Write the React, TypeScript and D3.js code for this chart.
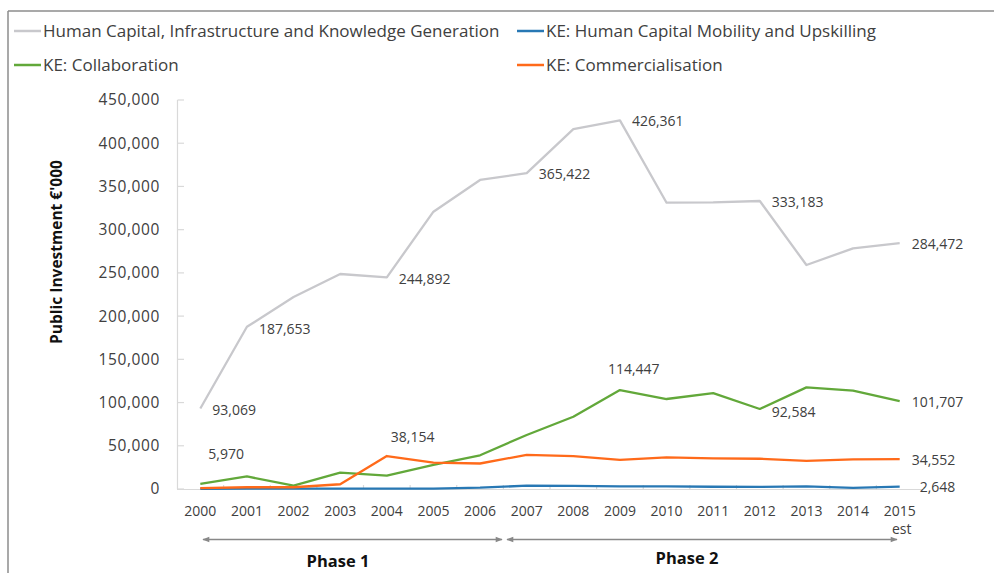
import React from "react";
import * as d3 from "d3";

const years = ["2000","2001","2002","2003","2004","2005","2006","2007","2008","2009","2010","2011","2012","2013","2014","2015"];
const humanCapital = [93069,187653,222000,248700,244892,320800,357500,365422,416400,426361,331200,331500,333183,259100,278400,284472];
const mobility = [300,500,500,500,500,500,1500,3800,3600,3100,3000,2600,2500,3100,1400,2648];
const collaboration = [5970,14500,4000,19000,15500,28000,39000,62500,83600,114447,104100,111000,92584,117600,113700,101707];
const commercialisation = [1000,2000,2000,5500,38154,30500,29500,39500,38000,33800,36700,35500,35000,32600,34300,34552];
const yTicks = [0,50000,100000,150000,200000,250000,300000,350000,400000,450000];

const seriesNames = [
  "Human Capital, Infrastructure and Knowledge Generation",
  "KE: Human Capital Mobility and Upskilling",
  "KE: Collaboration",
  "KE: Commercialisation",
];
const seriesColors = ["#c8c8cc", "#2878b4", "#62a83a", "#ff6a1a"];
const seriesData = [humanCapital, mobility, collaboration, commercialisation];

// labelled points: [series index, year index, dx, dy]
const labelPoints: [number, number, number, number][] = [
  [0, 0, 12, 2], [0, 1, 12, 2], [0, 4, 12, 2], [0, 7, 12, 1], [0, 9, 12, 1], [0, 12, 12, 1], [0, 15, 12, 1],
  [2, 0, 8, -30], [2, 9, -12, -21], [2, 12, 12, 3], [2, 15, 12, 1],
  [3, 4, 4, -19], [3, 15, 12, 1],
  [1, 15, 20, 0],
];

const FONT = "'Open Sans', 'Segoe UI', sans-serif";

export default function App() {
  const W = 994, H = 573;
  const x = d3.scaleBand<string>().domain(years).range([177, 923]);
  const y = d3.scaleLinear().domain([0, 450000]).range([489, 100]);
  const cx = (i: number) => (x(years[i]) as number) + x.bandwidth() / 2;
  const line = d3.line<number>().x((_, i) => cx(i)).y((v) => y(v));
  const fmt = d3.format(",");
  const axisColor = "#d9d9d9";
  const textColor = "#404040";

  const legendItems = [
    { i: 0, x: 14, y: 31 },
    { i: 1, x: 517, y: 31 },
    { i: 2, x: 14, y: 65 },
    { i: 3, x: 517, y: 65 },
  ];

  const p1 = [203, 502];
  const p2 = [507, 897];
  const arrowY = 539.5;

  return (
    <svg width={W} height={H} style={{ position: "absolute", left: 0, top: 0, background: "#fff" }} fontFamily={FONT}>
      <defs>
        <marker id="arr" viewBox="0 0 10 10" refX="9" refY="5" markerWidth="9" markerHeight="7" orient="auto-start-reverse" markerUnits="userSpaceOnUse">
          <path d="M0,1 L10,5 L0,9 Z" fill="#888" />
        </marker>
      </defs>
      <rect x={0} y={0} width={W} height={H} fill="#fff" />
      {/* frame */}
      <line x1={8} x2={W} y1={11} y2={11} stroke="#8c8c8c" strokeWidth={1.5} />
      <line x1={8} x2={8} y1={11} y2={H} stroke="#8c8c8c" strokeWidth={1.5} />

      {/* legend */}
      {legendItems.map((l) => (
        <g key={l.i}>
          <line x1={l.x} x2={l.x + 27} y1={l.y} y2={l.y} stroke={seriesColors[l.i]} strokeWidth={2.5} />
          <text x={l.x + 29} y={l.y} dy="0.35em" fontSize={17} fill={textColor}>{seriesNames[l.i]}</text>
        </g>
      ))}

      {/* y axis */}
      <line x1={177.5} x2={177.5} y1={y(450000)} y2={y(0)} stroke={axisColor} strokeWidth={1.2} />
      {yTicks.map((t) => (
        <g key={t}>
          <line x1={177.5} x2={184} y1={y(t)} y2={y(t)} stroke={axisColor} strokeWidth={1.2} />
          <text x={160} y={y(t)} dy="0.35em" textAnchor="end" fontSize={15.5} letterSpacing={0.6} fill={textColor}>{fmt(t)}</text>
        </g>
      ))}
      <text transform={`translate(57,${252}) rotate(-90)`} textAnchor="middle" dy="0.35em" fontSize={15.5} fontWeight="bold" fill="#111">Public Investment €'000</text>

      {/* x axis */}
      <line x1={177} x2={923} y1={489.5} y2={489.5} stroke={axisColor} strokeWidth={1.2} />
      {years.map((yr, i) => (
        <g key={yr}>
          {i > 0 && <line x1={x(yr) as number} x2={x(yr) as number} y1={489.5} y2={485} stroke={axisColor} strokeWidth={1.2} />}
          <text x={cx(i)} y={511} dy="0.35em" textAnchor="middle" fontSize={14} fill={textColor}>{yr}</text>
        </g>
      ))}
      <text x={cx(15) + 2} y={529} dy="0.35em" textAnchor="middle" fontSize={14} fill={textColor}>est</text>

      {/* series */}
      {seriesData.map((d, k) => (
        <path key={k} d={line(d) || ""} fill="none" stroke={seriesColors[k]} strokeWidth={2.3} strokeLinejoin="round" />
      ))}

      {/* data labels */}
      {labelPoints.map(([s, i, ddx, ddy]) => {
        const v = seriesData[s][i];
        return (
          <text key={`${s}-${i}`} x={cx(i) + ddx} y={y(v) + ddy} dy="0.35em" fontSize={14} fill={textColor}>{fmt(v)}</text>
        );
      })}

      {/* phase arrows */}
      <line x1={p1[0]} x2={p1[1]} y1={arrowY} y2={arrowY} stroke="#888" strokeWidth={1.5} markerStart="url(#arr)" markerEnd="url(#arr)" />
      <line x1={p2[0]} x2={p2[1]} y1={arrowY} y2={arrowY} stroke="#888" strokeWidth={1.5} markerStart="url(#arr)" markerEnd="url(#arr)" />
      <text x={338} y={561} dy="0.35em" textAnchor="middle" fontSize={16.5} fontWeight="bold" fill="#111">Phase 1</text>
      <text x={687} y={558} dy="0.35em" textAnchor="middle" fontSize={16.5} fontWeight="bold" fill="#111">Phase 2</text>
    </svg>
  );
}
